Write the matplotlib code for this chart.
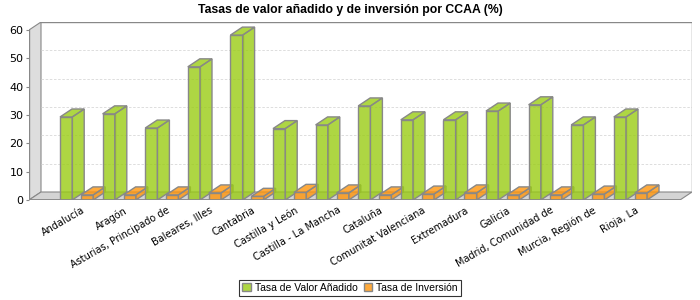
import matplotlib.pyplot as plt
from matplotlib.patches import Polygon, Rectangle, Patch
from matplotlib.colors import to_rgba

# ---------------------------
# Data
# ---------------------------
categories = ["Andalucía", "Aragón", "Asturias, Principado de", "Baleares, Illes",
              "Cantabria", "Castilla y León", "Castilla - La Mancha", "Cataluña",
              "Comunitat Valenciana", "Extremadura", "Galicia",
              "Madrid, Comunidad de", "Murcia, Región de", "Rioja, La"]
valor_anadido = [29.3, 30.4, 25.4, 47.0, 58.2, 25.2, 26.5, 33.2, 28.3, 28.3, 31.4, 33.6, 26.5, 29.3]
inversion = [1.8, 1.8, 1.8, 2.5, 1.3, 2.7, 2.5, 1.8, 2.1, 2.5, 1.8, 1.8, 2.1, 2.5]
y_ticks = [0, 10, 20, 30, 40, 50, 60]

GREEN = '#9ACC14'
ORANGE = '#FF950B'
EDGE = '#888888'
ALPHA = 0.8

# ---------------------------
# Geometry (3D look faked in 2D)
# ---------------------------
W, H = 700, 300
ax_left_px, ax_right_px = 29, 692
ax_top_px, ax_bot_px = 22, 200
px_per_cat = 42.6
px_per_val = 170 / 60.0
dx = 12 / px_per_cat
dy = 8 / px_per_val
x0 = -1.115
x1 = x0 + (ax_right_px - ax_left_px) / px_per_cat - dx
ymax = 60

fig = plt.figure(figsize=(7, 3), dpi=100)
ax = fig.add_axes([ax_left_px / W, (H - ax_bot_px) / H,
                   (ax_right_px - ax_left_px) / W, (ax_bot_px - ax_top_px) / H])
ax.set_xlim(x0, x1 + dx)
ax.set_ylim(0, ymax + dy)
for s in ax.spines.values():
    s.set_visible(False)
ax.set_xticks([])
ax.set_yticks(y_ticks)
ax.set_yticklabels([str(v) for v in y_ticks], fontsize=8)
ax.tick_params(axis='y', length=2, color=EDGE, pad=2)

# walls
ax.add_patch(Polygon([(x0, 0), (x0 + dx, dy), (x0 + dx, ymax + dy), (x0, ymax)],
                     facecolor='#DDDDDD', edgecolor=EDGE, lw=0.8, zorder=1))
ax.add_patch(Polygon([(x0, 0), (x1, 0), (x1 + dx, dy), (x0 + dx, dy)],
                     facecolor='#D4D4D4', edgecolor=EDGE, lw=0.8, zorder=1))
for v in y_ticks[1:-1]:
    ax.plot([x0 + dx, x1 + dx], [v + dy, v + dy], color='#D8D8D8', lw=0.6,
            ls=(0, (3, 2)), zorder=1)
ax.plot([x0 + dx, x1 + dx, x1 + dx], [ymax + dy, ymax + dy, dy], color=EDGE, lw=1, zorder=1)
ax.plot([x0, x0], [0, ymax], color=EDGE, lw=1, zorder=5)
ax.plot([x0, x1], [0, 0], color=EDGE, lw=1.2, zorder=5)


def bar3d(x, h, w, color):
    fc = to_rgba(color, ALPHA)
    kw = dict(facecolor=fc, edgecolor=EDGE, lw=1, zorder=3)
    ax.add_patch(Rectangle((x, 0), w, h, **kw))
    ax.add_patch(Polygon([(x + w, 0), (x + w + dx, dy), (x + w + dx, h + dy), (x + w, h)], **kw))
    ax.add_patch(Polygon([(x, h), (x + dx, h + dy), (x + w + dx, h + dy), (x + w, h)], **kw))


bw = 12.2 / px_per_cat
for i, (va, vi) in enumerate(zip(valor_anadido, inversion)):
    bar3d(i - 16.5 / px_per_cat, va, bw, GREEN)
    bar3d(i + 4.5 / px_per_cat, vi, bw, ORANGE)
    ax.text(i + 0.12, -1.8, categories[i], rotation=30, rotation_mode='anchor',
            ha='right', va='top', fontsize=7, clip_on=False)

fig.text(0.5, 1 - 10 / H, "Tasas de valor añadido y de inversión por CCAA (%)",
         ha='center', va='center', fontsize=8.8, fontweight='bold',
         family='Liberation Sans')

handles = [Patch(facecolor=to_rgba(GREEN, ALPHA), edgecolor=EDGE, label='Tasa de Valor Añadido'),
           Patch(facecolor=to_rgba(ORANGE, ALPHA), edgecolor=EDGE, label='Tasa de Inversión')]
leg = fig.legend(handles=handles, loc='center', bbox_to_anchor=(0.5, 1 - 288 / H), ncol=2,
                 prop={'family': 'Liberation Sans', 'size': 7.5}, frameon=True,
                 fancybox=False, handlelength=0.8, handleheight=0.8,
                 handletextpad=0.4, columnspacing=0.6, borderpad=0.3, borderaxespad=0)
leg.get_frame().set_edgecolor('black')
leg.get_frame().set_linewidth(0.8)

fig.savefig('out.png', dpi=100)
